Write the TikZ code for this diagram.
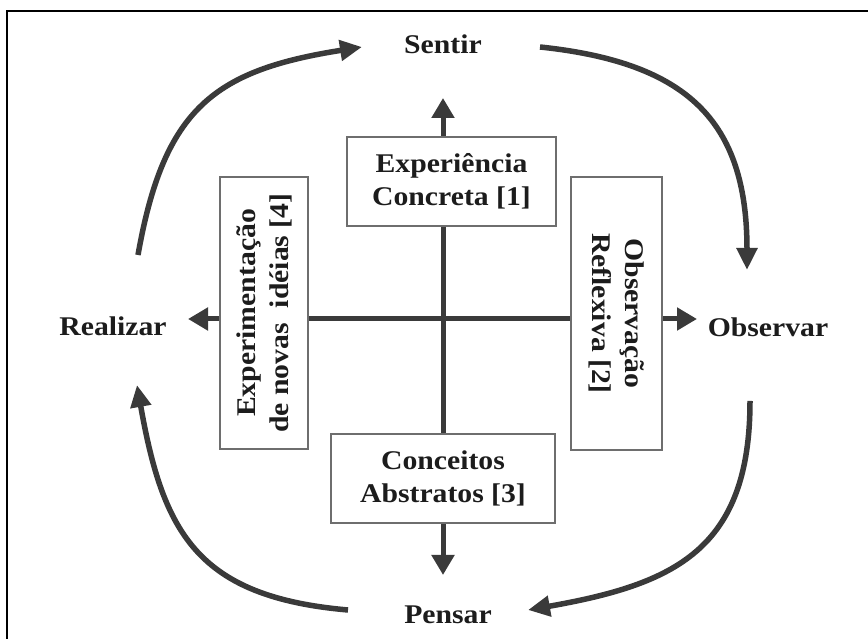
\documentclass[tikz,border=0pt]{standalone}
\usepackage{fontspec}
\setmainfont[FakeStretch=1.1]{Liberation Serif}
\usetikzlibrary{arrows.meta}
\definecolor{arccol}{HTML}{3A3A3A}
\definecolor{boxline}{HTML}{6E6E6E}
\definecolor{txt}{HTML}{1C1C1C}
\begin{document}
\begin{tikzpicture}[x=1pt,y=1pt,
  lbl/.style={font=\fontsize{27}{33}\selectfont\bfseries, text=txt, inner sep=0pt},
  card/.style={draw=boxline, line width=1.4pt, fill=white, align=center,
     font=\fontsize{27}{33}\selectfont\bfseries, text=txt, inner sep=0pt},
  axisline/.style={draw=arccol, line width=5pt,
     {Triangle[width=22pt,length=20pt]}-{Triangle[width=22pt,length=20pt]}},
  cyc/.style={draw=arccol, line width=5.5pt, -{Triangle[width=20pt,length=22pt]}},
]
\useasboundingbox (0,0) rectangle (868,639);
% frame
\draw[black, line width=2pt] (7,0) -- (7,628) -- (868,628);

% axes
\coordinate (vt) at (443,541);
\coordinate (vb) at (443,64);
\coordinate (hl) at (188,320);
\coordinate (hr) at (697,320);
\draw[axisline] (vb) -- (vt);
\draw[axisline] (hl) -- (hr);

% boxes
\node[card, minimum width=209pt, minimum height=89pt] (b1) at (451.5,457.5)
  {Experiência\\Concreta [1]};
\node[card, minimum width=224pt, minimum height=89pt] (b3) at (443,160.5)
  {Conceitos\\Abstratos [3]};
\node[card, rotate=90, minimum width=272pt, minimum height=88pt] (b4) at (264,326)
  {Experimentação\\de novas\ \ idéias [4]};
\node[card, rotate=-90, minimum width=273pt, minimum height=91pt] (b2) at (616.5,325.5)
  {Observação\\Reflexiva [2]};

% outer labels
\node[lbl] (sentir) at (443,595) {Sentir};
\node[lbl] (realizar) at (113,313) {Realizar};
\node[lbl] (observar) at (768,312) {Observar};
\node[lbl] (pensar) at (448,24) {Pensar};

% cycle arrows
\coordinate (a1s) at (138,384); \coordinate (a1e) at (362,592);
\coordinate (a2s) at (540,592); \coordinate (a2e) at (747,369);
\coordinate (a3s) at (750,238); \coordinate (a3e) at (528,29);
\coordinate (a4s) at (348,29);  \coordinate (a4e) at (137,254);
\draw[cyc] (a1s) to[out=80,in=189,looseness=1.25] (a1e);
\draw[cyc] (a2s) to[out=-6,in=90,looseness=1.25] (a2e);
\draw[cyc] (a3s) to[out=-90,in=10,looseness=1.25] (a3e);
\draw[cyc] (a4s) to[out=175,in=-80,looseness=1.25] (a4e);
\end{tikzpicture}
\end{document}
